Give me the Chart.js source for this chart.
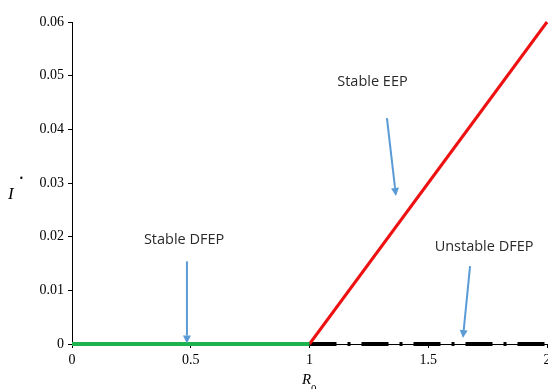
<!DOCTYPE html>
<html>
<head>
<meta charset="utf-8">
<script src="https://cdn.jsdelivr.net/npm/chart.js@4"></script>
<style>
  html, body { margin: 0; padding: 0; background: #fff; }
  #wrap { width: 548px; height: 389px; }
</style>
</head>
<body>
<div id="wrap"><canvas id="bifurcation" width="548" height="389"></canvas></div>
<script>
// bifurcation diagram: I* against R0

const stableDfeX = [0, 1];
const stableDfeY = [0, 0];
const eepX = [1, 2];
const eepY = [0, 0.06];
const unstableDfeX = [1, 2];
const unstableDfeY = [0, 0];

const xTicks = [0, 0.5, 1, 1.5, 2];
const xTickLabels = ['0', '0.5', '1', '1.5', '2'];
const yTicks = [0, 0.01, 0.02, 0.03, 0.04, 0.05, 0.06];
const yTickLabels = ['0', '0.01', '0.02', '0.03', '0.04', '0.05', '0.06'];

// annotations (data coordinates)
const noteText = ['Stable EEP', 'Stable DFEP', 'Unstable DFEP'];
const noteX = [1.265, 0.472, 1.735];
const noteY = [0.0488, 0.0194, 0.0181];
const arrowFromX = [1.326, 0.484, 1.676];
const arrowFromY = [0.0421, 0.0154, 0.0145];
const arrowToX = [1.364, 0.484, 1.646];
const arrowToY = [0.0276, 0.0001, 0.0011];

const toPoints = (xs, ys) => xs.map((x, i) => ({ x: x, y: ys[i] }));

const notesPlugin = {
    id: 'notes',
    afterDatasetsDraw(chart) {
        const ctx = chart.ctx;
        const sx = chart.scales.x, sy = chart.scales.y;
        ctx.save();
        // arrows
        ctx.strokeStyle = '#5b9bd5';
        ctx.fillStyle = '#5b9bd5';
        ctx.lineWidth = 2;
        for (let i = 0; i < noteText.length; i++) {
            const x1 = sx.getPixelForValue(arrowFromX[i]);
            const y1 = sy.getPixelForValue(arrowFromY[i]);
            const x2 = sx.getPixelForValue(arrowToX[i]);
            const y2 = sy.getPixelForValue(arrowToY[i]);
            const ang = Math.atan2(y2 - y1, x2 - x1);
            const headLen = 8, headW = 4;
            const bx = x2 - headLen * Math.cos(ang);
            const by = y2 - headLen * Math.sin(ang);
            ctx.beginPath();
            ctx.moveTo(x1, y1);
            ctx.lineTo(bx, by);
            ctx.stroke();
            ctx.beginPath();
            ctx.moveTo(x2, y2);
            ctx.lineTo(bx + headW * Math.sin(ang), by - headW * Math.cos(ang));
            ctx.lineTo(bx - headW * Math.sin(ang), by + headW * Math.cos(ang));
            ctx.closePath();
            ctx.fill();
        }
        // labels
        ctx.fillStyle = '#2a2a2a';
        ctx.font = '14.5px "Open Sans", sans-serif';
        ctx.textAlign = 'center';
        ctx.textBaseline = 'middle';
        for (let i = 0; i < noteText.length; i++) {
            ctx.fillText(noteText[i], sx.getPixelForValue(noteX[i]), sy.getPixelForValue(noteY[i]));
        }
        // axis titles
        ctx.fillStyle = '#000';
        ctx.textAlign = 'left';
        ctx.textBaseline = 'alphabetic';
        ctx.font = 'italic 17px "Liberation Serif", serif';
        ctx.fillText('I', 8, 199);
        ctx.font = '8px "DejaVu Sans", sans-serif';
        ctx.fillText('•', 19, 181);
        ctx.font = 'italic 15px "Liberation Serif", serif';
        ctx.fillText('R', 302, 384);
        ctx.font = '11px "Liberation Serif", serif';
        ctx.fillText('0', 311, 392);
        ctx.restore();
    }
};

const ctx = document.getElementById('bifurcation').getContext('2d');
const bifurcationChart = new Chart(ctx, {
    type: 'line',
    data: {
        datasets: [{
            label: 'Stable DFEP',
            data: toPoints(stableDfeX, stableDfeY),
            borderColor: '#1db34f',
            borderWidth: 4,
            pointRadius: 0,
            clip: false
        }, {
            label: 'Stable EEP',
            data: toPoints(eepX, eepY),
            borderColor: '#ee1111',
            borderWidth: 3,
            pointRadius: 0,
            clip: false
        }, {
            label: 'Unstable DFEP',
            data: toPoints(unstableDfeX, unstableDfeY),
            borderColor: '#000',
            borderWidth: 4,
            borderDash: [27, 11, 3, 11],
            pointRadius: 0,
            clip: false
        }]
    },
    options: {
        responsive: false,
        animation: false,
        layout: { padding: { top: 22, right: 1, bottom: 0, left: 0 } },
        plugins: { legend: { display: false }, tooltip: { enabled: false } },
        scales: {
            x: {
                type: 'linear',
                min: 0,
                max: 2,
                afterBuildTicks: (scale) => { scale.ticks = xTicks.map(v => ({ value: v })); },
                afterFit: (scale) => { scale.height = 45; scale.paddingLeft = 0; scale.paddingRight = 0; },
                grid: { drawOnChartArea: false, drawTicks: true, tickLength: 4, color: '#000' },
                border: { color: '#000', width: 1 },
                ticks: {
                    color: '#000',
                    padding: 4,
                    maxRotation: 0,
                    autoSkip: false,
                    font: { family: '"Liberation Serif", serif', size: 14 },
                    callback: (v, i) => xTickLabels[i]
                }
            },
            y: {
                type: 'linear',
                min: 0,
                max: 0.06,
                afterBuildTicks: (scale) => { scale.ticks = yTicks.map(v => ({ value: v })); },
                afterFit: (scale) => { scale.width = 72; scale.paddingTop = 0; scale.paddingBottom = 0; },
                grid: { drawOnChartArea: false, drawTicks: true, tickLength: 4, color: '#000' },
                border: { color: '#000', width: 1 },
                ticks: {
                    color: '#000',
                    padding: 4,
                    autoSkip: false,
                    font: { family: '"Liberation Serif", serif', size: 14 },
                    callback: (v, i) => yTickLabels[i]
                }
            }
        }
    },
    plugins: [notesPlugin]
});
</script>
</body>
</html>
